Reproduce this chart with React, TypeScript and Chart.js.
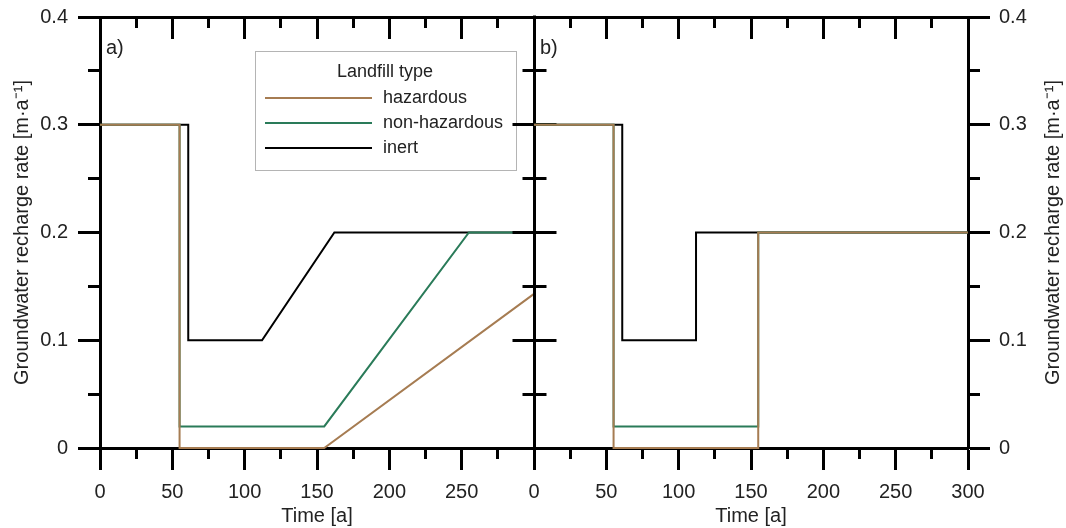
import React, { useEffect, useRef } from "react";
import { Chart, registerables } from "chart.js";

Chart.register(...registerables);

const FONT = "'Liberation Sans', Arial, Helvetica, sans-serif";

// ---- Text ----
const seriesNames = ["hazardous", "non-hazardous", "inert"];
const seriesColors = ["#a67c52", "#2a7b59", "#000000"];
const legendTitle = "Landfill type";
const yTitle = "Groundwater recharge rate [m·a⁻¹]";
const xTitle = "Time [a]";
const panelLabels = ["a)", "b)"];

// ---- Axes ----
const xMin = 0;
const xMax = 300;
const xStep = 50;
const xMinorStep = 25;
const yMin = 0;
const yMax = 0.4;
const yStep = 0.1;
const yMinorStep = 0.05;

// ---- Panel a data (time [a], rate [m/a]) ----
const hazA_t = [0, 55, 55, 155, 300];
const hazA_r = [0.3, 0.3, 0, 0, 0.143];
const nonA_t = [0, 55, 55, 155, 255, 300];
const nonA_r = [0.3, 0.3, 0.02, 0.02, 0.2, 0.2];
const inertA_t = [0, 61, 61, 112, 162, 300];
const inertA_r = [0.3, 0.3, 0.1, 0.1, 0.2, 0.2];

// ---- Panel b data ----
const hazB_t = [0, 55, 55, 155, 155, 300];
const hazB_r = [0.3, 0.3, 0, 0, 0.2, 0.2];
const nonB_t = [0, 55, 55, 155, 155, 300];
const nonB_r = [0.3, 0.3, 0.02, 0.02, 0.2, 0.2];
const inertB_t = [0, 61, 61, 112, 112, 300];
const inertB_r = [0.3, 0.3, 0.1, 0.1, 0.2, 0.2];

// ---- Layout (canvas px = page px) ----
const W = 1066;
const H = 528;
const TOP = 17;
const BOTTOM = 448;
const LEFT_A = 100;
const MID = 534;
const RIGHT_B = 968;

const pts = (t: number[], r: number[]) => t.map((x, i) => ({ x, y: r[i] }));
const al = (v: number) => Math.round(v - 0.5) + 0.5;

const frame = {
  id: "frame",
  beforeDatasetsDraw(chart: any, _args: any, opts: any) {
    const { ctx, chartArea: a, scales } = chart;
    const xs = scales.x;
    const ys = scales.y;
    ctx.save();
    ctx.strokeStyle = "#000";
    ctx.lineWidth = 3;
    ctx.lineCap = "butt";
    const seg = (x1: number, y1: number, x2: number, y2: number) => {
      ctx.beginPath();
      ctx.moveTo(x1, y1);
      ctx.lineTo(x2, y2);
      ctx.stroke();
    };
    const top = al(a.top);
    // top border
    seg(a.left - 1.5, top, a.right + 1.5, top);
    for (let v = xMin + xMinorStep; v < xMax - 1e-9; v += xMinorStep) {
      const px = al(xs.getPixelForValue(v));
      const major = Math.abs(v % xStep) < 1e-9;
      seg(px, a.top, px, a.top + (major ? 22 : 11));
      if (!major) seg(px, a.bottom, px, a.bottom + 11);
    }
    // y minor ticks on the outer axis
    for (let v = yMin + yMinorStep; v < yMax; v += yStep) {
      const py = al(ys.getPixelForValue(v));
      if (opts.side === "a") seg(a.left, py, a.left - 12, py);
      else seg(a.right, py, a.right + 12, py);
    }
    if (opts.side === "b") {
      // shared middle axis with crossing ticks
      const mx = al(a.left);
      seg(mx, a.top - 1.5, mx, a.bottom + 1.5);
      for (let v = yMin; v <= yMax + 1e-9; v += yStep) {
        const py = al(ys.getPixelForValue(v));
        seg(mx - 22, py, mx + 22, py);
      }
      for (let v = yMin + yMinorStep; v < yMax; v += yStep) {
        const py = al(ys.getPixelForValue(v));
        seg(mx - 12, py, mx + 12, py);
      }
    }
    ctx.restore();
  },
  afterDraw(chart: any, _args: any, opts: any) {
    const { ctx, chartArea: a } = chart;
    ctx.save();
    ctx.fillStyle = "#222";
    ctx.font = `20px ${FONT}`;
    ctx.textBaseline = "middle";
    ctx.textAlign = "left";
    ctx.fillText(opts.side === "a" ? panelLabels[0] : panelLabels[1], a.left + 6, 48);
    if (opts.side === "b") {
      ctx.save();
      ctx.translate(1053, (a.top + a.bottom) / 2);
      ctx.rotate(-Math.PI / 2);
      ctx.textAlign = "center";
      ctx.fillText(yTitle, 0, 0);
      ctx.restore();
    }
    if (opts.side === "a") {
      // legend
      const bx = 255, by = 51, bw = 261, bh = 119;
      ctx.fillStyle = "#fff";
      ctx.fillRect(bx, by, bw, bh);
      ctx.strokeStyle = "#b4b4b4";
      ctx.lineWidth = 1;
      ctx.strokeRect(bx + 0.5, by + 0.5, bw, bh);
      ctx.fillStyle = "#222";
      ctx.font = `18px ${FONT}`;
      ctx.textAlign = "center";
      ctx.fillText(legendTitle, 385, 72);
      ctx.textAlign = "left";
      const ys = [98, 123, 148];
      chart.data.datasets.forEach((ds: any, i: number) => {
        ctx.strokeStyle = ds.borderColor;
        ctx.lineWidth = 2;
        ctx.beginPath();
        ctx.moveTo(265, ys[i]);
        ctx.lineTo(372, ys[i]);
        ctx.stroke();
        ctx.fillStyle = "#222";
        ctx.fillText(ds.label, 383, ys[i]);
      });
    }
    ctx.restore();
  },
};

function makeConfig(side: "a" | "b"): any {
  const series =
    side === "a"
      ? [pts(hazA_t, hazA_r), pts(nonA_t, nonA_r), pts(inertA_t, inertA_r)]
      : [pts(hazB_t, hazB_r), pts(nonB_t, nonB_r), pts(inertB_t, inertB_r)];
  const tickFont = { size: 20, family: FONT };
  const axisCommon = {
    border: { display: true, color: "#000", width: 3 },
    grid: {
      drawOnChartArea: false,
      drawTicks: true,
      tickLength: 22,
      tickWidth: 3,
      tickColor: "#000",
    },
  };
  return {
    type: "line",
    data: {
      datasets: series.map((d, i) => ({
        label: seriesNames[i],
        data: d,
        borderColor: seriesColors[i],
        backgroundColor: seriesColors[i],
        borderWidth: 2,
        pointRadius: 0,
        fill: false,
        tension: 0,
        clip: false,
        borderJoinStyle: "miter",
      })),
    },
    options: {
      responsive: false,
      animation: false,
      events: [],
      devicePixelRatio: 1,
      layout: {
        padding:
          side === "a"
            ? { top: TOP, left: 0, right: W - MID, bottom: 0 }
            : { top: TOP, left: MID, right: 0, bottom: 0 },
      },
      plugins: {
        legend: { display: false },
        tooltip: { enabled: false },
        frame: { side },
      },
      scales: {
        x: {
          type: "linear",
          position: "bottom",
          min: xMin,
          max: xMax,
          ...axisCommon,
          ticks: {
            stepSize: xStep,
            autoSkip: false,
            maxRotation: 0,
            padding: 10,
            color: "#222",
            font: tickFont,
            callback: (v: number) => (side === "a" && v === xMax ? "" : String(v)),
          },
          title: {
            display: true,
            text: xTitle,
            color: "#222",
            font: { size: 20, family: FONT },
            padding: { top: 0, bottom: 0 },
          },
          afterFit: (s: any) => {
            s.height = H - BOTTOM;
            s.paddingLeft = 0;
            s.paddingRight = 0;
          },
        },
        y: {
          type: "linear",
          position: side === "a" ? "left" : "right",
          min: yMin,
          max: yMax,
          ...axisCommon,
          ticks: {
            stepSize: yStep,
            padding: side === "a" ? 10 : 9,
            color: "#222",
            font: tickFont,
          },
          title: {
            display: side === "a",
            text: yTitle,
            color: "#222",
            font: { size: 20, family: FONT },
            padding: { top: 10, bottom: 0 },
          },
          afterFit: (s: any) => {
            s.width = side === "a" ? LEFT_A : W - RIGHT_B;
            s.paddingTop = 0;
            s.paddingBottom = 0;
          },
        },
      },
    },
    plugins: [frame],
  };
}

export default function App() {
  const refA = useRef<HTMLCanvasElement>(null);
  const refB = useRef<HTMLCanvasElement>(null);
  useEffect(() => {
    const prev = document.body.style.margin;
    document.body.style.margin = "0";
    const ca = new Chart(refA.current as HTMLCanvasElement, makeConfig("a"));
    const cb = new Chart(refB.current as HTMLCanvasElement, makeConfig("b"));
    return () => {
      ca.destroy();
      cb.destroy();
      document.body.style.margin = prev;
    };
  }, []);
  const cs: React.CSSProperties = {
    position: "absolute",
    left: 0,
    top: 0,
    width: W,
    height: H,
    display: "block",
  };
  return (
    <div
      style={{
        position: "relative",
        width: W,
        height: H,
        overflow: "hidden",
        background: "#fff",
      }}
    >
      <style>{"body{margin:0}"}</style>
      <canvas ref={refA} width={W} height={H} style={cs} />
      <canvas ref={refB} width={W} height={H} style={cs} />
    </div>
  );
}
